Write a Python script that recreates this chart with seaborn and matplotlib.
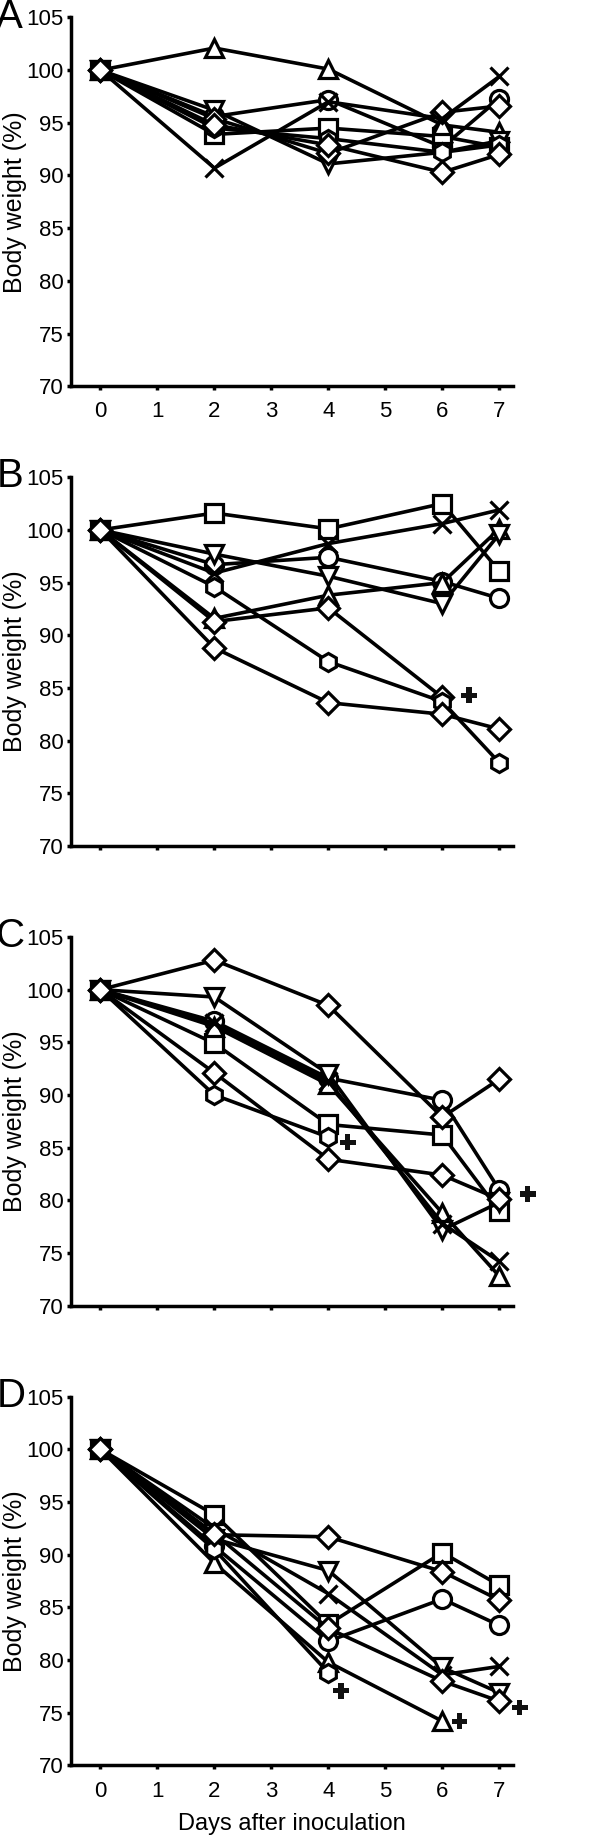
import numpy as np
import pandas as pd
import matplotlib
matplotlib.use("Agg")
import matplotlib.pyplot as plt
import seaborn as sns

# days after inoculation
days = [0, 2, 4, 6, 7]
mice = ["circle", "square", "up", "down", "diamond1", "cross", "hexagon", "diamond2"]
markers = {"circle": "o", "square": "s", "up": "^", "down": "v",
           "diamond1": "D", "cross": "x", "hexagon": "h", "diamond2": "D"}
nan = np.nan

# ---- panel A ----
A_circle = [100, 95.6, 97.2, 92.7, 97.3]
A_square = [100, 93.9, 94.5, 93.7, 92.7]
A_up = [100, 102.1, 100.1, 94.8, 94.1]
A_down = [100, 96.2, 91.1, 92.2, 93.3]
A_diamond1 = [100, 95.4, 92.1, 96.0, 96.6]
A_cross = [100, 90.7, 97.0, 95.4, 99.4]
A_hexagon = [100, 94.5, 93.5, 92.2, 92.9]
A_diamond2 = [100, 94.8, 92.9, 90.3, 92.0]
A_dead_x, A_dead_y = [], []

# ---- panel B ----
B_circle = [100, 96.7, 97.4, 95.1, 93.5]
B_square = [100, 101.6, 100.1, 102.5, 96.1]
B_up = [100, 91.6, 93.8, 95.0, 100.1]
B_down = [100, 97.7, 95.6, 93.0, 99.6]
B_diamond1 = [100, 91.3, 92.6, 84.1, nan]
B_cross = [100, 95.9, 98.7, 100.6, 101.9]
B_hexagon = [100, 94.6, 87.5, 83.7, 77.9]
B_diamond2 = [100, 88.8, 83.6, 82.5, 81.1]
B_dead_x, B_dead_y = [6.47], [84.3]

# ---- panel C ----
C_circle = [100, 97.0, 91.6, 89.5, 81.0]
C_square = [100, 94.9, 87.2, 86.2, 79.0]
C_up = [100, 96.5, 91.0, 78.8, 72.8]
C_down = [100, 99.3, 92.0, 77.2, 79.8]
C_diamond1 = [100, 102.8, 98.5, 87.9, 91.5]
C_cross = [100, 96.8, 91.3, 77.8, 74.2]
C_hexagon = [100, 90.0, 86.0, nan, nan]
C_diamond2 = [100, 92.1, 83.9, 82.4, 80.1]
C_dead_x, C_dead_y = [4.34, 7.5], [85.5, 80.6]

# ---- panel D ----
D_circle = [100, 90.8, 81.8, 85.8, 83.3]
D_square = [100, 93.8, 83.4, 90.2, 87.1]
D_up = [100, 89.2, 79.8, 74.2, nan]
D_down = [100, 91.5, 88.5, 79.3, 76.9]
D_diamond1 = [100, 91.9, 91.7, 88.4, 85.7]
D_cross = [100, 92.5, 86.3, 78.6, 79.4]
D_hexagon = [100, 90.5, 78.8, nan, nan]
D_diamond2 = [100, 92.0, 83.0, 78.0, 76.1]
D_dead_x, D_dead_y = [4.22, 6.3, 7.36], [77.1, 74.2, 75.5]

panels = {
    "A": ([A_circle, A_square, A_up, A_down, A_diamond1, A_cross, A_hexagon, A_diamond2], A_dead_x, A_dead_y),
    "B": ([B_circle, B_square, B_up, B_down, B_diamond1, B_cross, B_hexagon, B_diamond2], B_dead_x, B_dead_y),
    "C": ([C_circle, C_square, C_up, C_down, C_diamond1, C_cross, C_hexagon, C_diamond2], C_dead_x, C_dead_y),
    "D": ([D_circle, D_square, D_up, D_down, D_diamond1, D_cross, D_hexagon, D_diamond2], D_dead_x, D_dead_y),
}

sns.set_style("ticks")
plt.rcParams["font.family"] = ["Liberation Sans", "DejaVu Sans"]
plt.rcParams.update({"text.color": "black", "axes.labelcolor": "black",
                     "xtick.color": "black", "ytick.color": "black",
                     "axes.edgecolor": "black"})

fig = plt.figure(figsize=(6, 18.39), dpi=100)

# axes boxes (left, bottom, width, height) in figure fraction
left, width = 0.118, 0.737
bottoms = {"A": 0.790, "B": 0.540, "C": 0.290, "D": 0.040}
height = 0.2005

for name, (series, dead_x, dead_y) in panels.items():
    ax = fig.add_axes([left, bottoms[name], width, height])
    for mouse, vals in zip(mice, series):
        df = pd.DataFrame({"day": days, "weight": vals}).dropna()
        mk = markers[mouse]
        ms = 11 if mk == "D" else 13
        sns.lineplot(data=df, x="day", y="weight", ax=ax, color="black",
                     linewidth=2.6, marker=mk, markersize=ms,
                     markerfacecolor="white", markeredgecolor="black",
                     markeredgewidth=2.3, zorder=3)
    if dead_x:
        sns.scatterplot(x=dead_x, y=dead_y, ax=ax, marker="P", s=130,
                        color="#111111", edgecolor="none", zorder=4,
                        clip_on=False)

    ax.set_xlim(-0.52, 7.24)
    ax.set_ylim(70, 105)
    ax.set_yticks([70, 75, 80, 85, 90, 95, 100, 105])
    ax.set_xticks(range(8))
    for s in ["left", "bottom"]:
        ax.spines[s].set_linewidth(2.5)
    sns.despine(ax=ax)
    ax.tick_params(axis="both", direction="out", length=3, width=2.5,
                   labelsize=16, pad=2)
    ax.set_ylabel("Body weight (%)", fontsize=18)
    ax.yaxis.set_label_coords(-0.098, 0.5)
    if name in ("A", "D"):
        ax.tick_params(axis="x", pad=8)
    else:
        ax.set_xticklabels([])
    if name == "D":
        ax.set_xlabel("Days after inoculation", fontsize=17, labelpad=8)
    else:
        ax.set_xlabel("")
    top = bottoms[name] + height
    fig.text(-0.006, top + 0.0005, name, fontsize=29, ha="left", va="center")

fig.savefig("out.png", dpi=100)
